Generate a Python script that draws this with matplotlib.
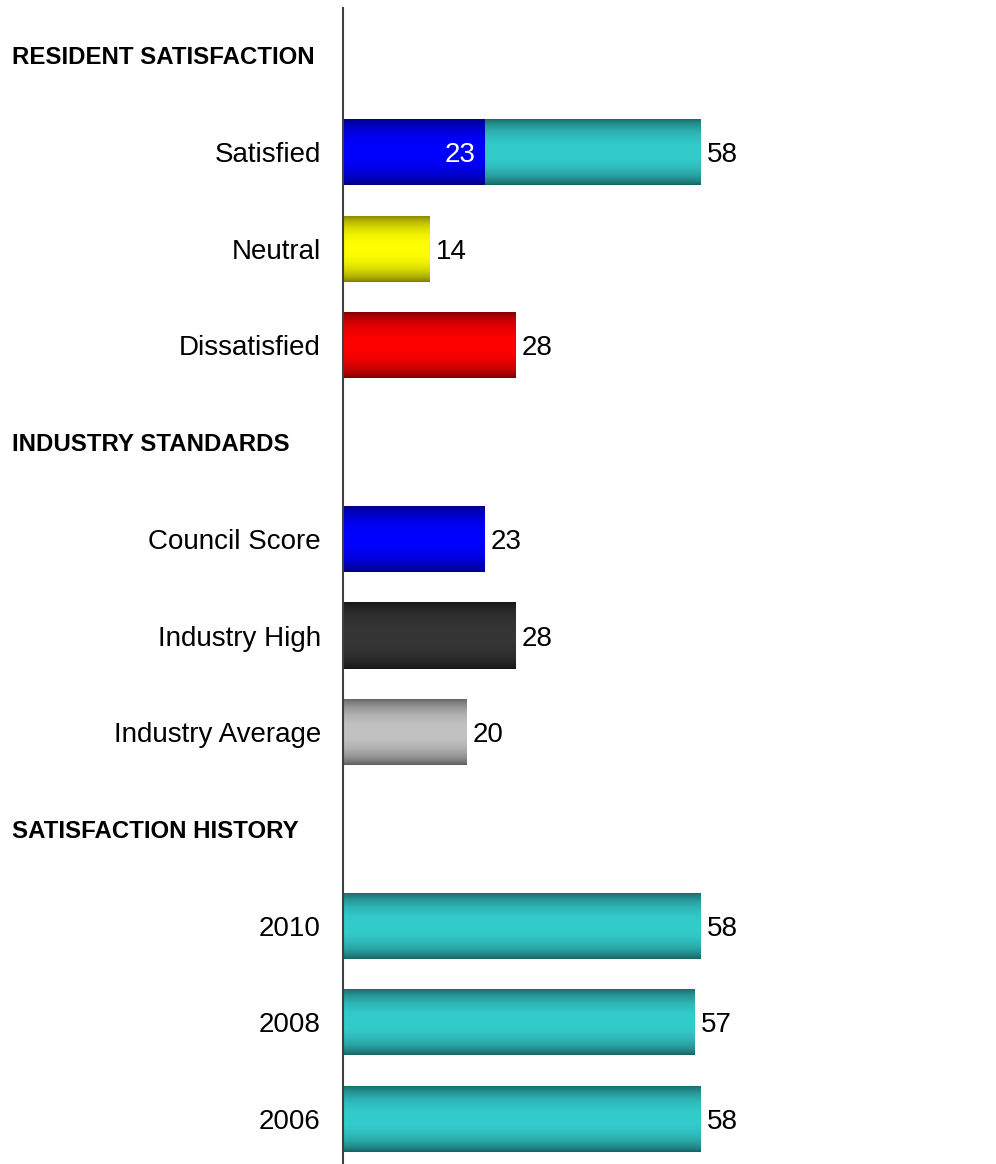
import numpy as np
import matplotlib
matplotlib.use('Agg')
import matplotlib.pyplot as plt
import matplotlib.transforms as mtransforms

plt.rcParams['font.family'] = ['Liberation Sans', 'DejaVu Sans']

# Section headers and bar rows (top to bottom)
headers = ['RESIDENT SATISFACTION', 'INDUSTRY STANDARDS', 'SATISFACTION HISTORY']
section_labels = [['Satisfied', 'Neutral', 'Dissatisfied'],
                  ['Council Score', 'Industry High', 'Industry Average'],
                  ['2010', '2008', '2006']]
section_values = [[58, 14, 28],
                  [23, 28, 20],
                  [58, 57, 58]]
very_satisfied = 23  # inner part of the "Satisfied" bar

# (edge colour, middle colour) for the shaded bars
teal = ('#175f5f', '#33cccc')
blue = ('#000078', '#0000ff')
yellow = ('#7a7a00', '#ffff00')
red = ('#780000', '#ff0000')
black = ('#161616', '#363636')
grey = ('#5a5a5a', '#c2c2c2')
section_colors = [[teal, yellow, red], [blue, black, grey], [teal, teal, teal]]

W, H = 996, 1164
fig = plt.figure(figsize=(W / 100, H / 100), dpi=100)
ax = fig.add_axes([343 / W, 0, (W - 343) / W, (H - 8) / H])

px_per_unit = (701 - 343) / 58
ax.set_xlim(0, (W - 343) / px_per_unit)
ax.set_ylim(11.465, -0.489)

bar_h = 0.683


def shade(patch, cols):
    c0 = np.array(matplotlib.colors.to_rgb(cols[0]))
    c1 = np.array(matplotlib.colors.to_rgb(cols[1]))
    t = np.linspace(0, 1, 200)
    m = np.clip(1 - np.abs(2 * t - 1) ** 2.2, 0, 1) ** 0.8
    img = c0[None, :] * (1 - m[:, None]) + c1[None, :] * m[:, None]
    img = img[:, None, :]
    x0, y0 = patch.get_x(), patch.get_y()
    w, h = patch.get_width(), patch.get_height()
    im = ax.imshow(img, extent=(x0, x0 + w, y0 + h, y0), aspect='auto',
                   interpolation='bilinear', zorder=patch.get_zorder())
    im.set_clip_path(patch)
    patch.set_alpha(0)


hdr_trans = mtransforms.blended_transform_factory(fig.transFigure, ax.transData)
ytick_pos, ytick_lab = [], []
row = 0
for hdr, labs, vals, cols in zip(headers, section_labels, section_values, section_colors):
    ax.text(12 / W, row, hdr, transform=hdr_trans,
            ha='left', va='center_baseline', fontsize=17.3, fontweight='bold')
    row += 1
    for lab, v, c in zip(labs, vals, cols):
        bars = ax.barh([row], [v], height=bar_h, color=c[1], zorder=2)
        shade(bars.patches[0], c)
        ax.text(v + 6 / px_per_unit, row, str(v), ha='left', va='center_baseline', fontsize=20)
        if lab == 'Satisfied':
            inner = ax.barh([row], [very_satisfied], height=bar_h, color=blue[1], zorder=3)
            shade(inner.patches[0], blue)
            ax.text(very_satisfied - 9 / px_per_unit, row, str(very_satisfied),
                    ha='right', va='center_baseline', fontsize=20, color='white', zorder=5)
        ytick_pos.append(row)
        ytick_lab.append(lab)
        row += 1

ax.set_yticks(ytick_pos)
ax.set_yticklabels(ytick_lab, fontsize=20)
ax.tick_params(axis='y', length=0, pad=16)
ax.set_xticks([])
for s in ['top', 'right', 'bottom']:
    ax.spines[s].set_visible(False)
ax.spines['left'].set_color('#404040')
ax.spines['left'].set_linewidth(1.5)
ax.spines['left'].set_zorder(6)
ax.set_facecolor('none')

fig.savefig('out.png', dpi=100)
